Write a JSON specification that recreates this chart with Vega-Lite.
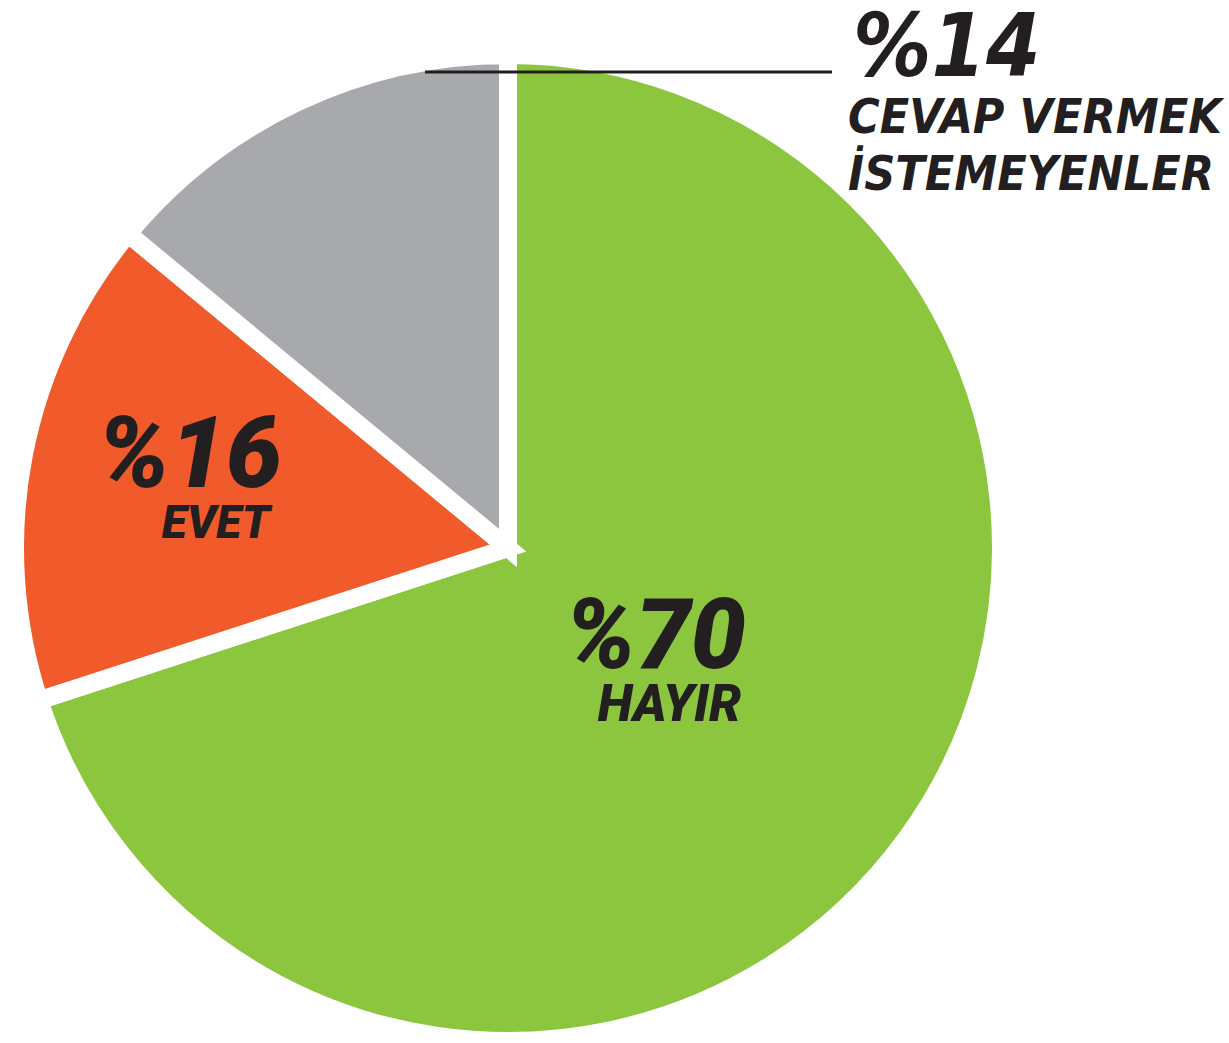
{
  "$schema": "https://vega.github.io/schema/vega-lite/v6.json",
  "width": 1016,
  "height": 990,
  "autosize": {"type": "none"},
  "padding": {"left": 0, "top": 53, "right": 213, "bottom": 0},
  "background": "white",
  "config": {"view": {"stroke": null}},
  "data": {
    "values": [
      {"cevap": "HAYIR", "yuzde": 70, "sira": 1, "etiket": "%70", "ad": "HAYIR"},
      {"cevap": "EVET", "yuzde": 16, "sira": 2, "etiket": "%16", "ad": "EVET"},
      {"cevap": "CEVAP VERMEK İSTEMEYENLER", "yuzde": 14, "sira": 3, "etiket": "%14", "ad": "CEVAP VERMEK\nİSTEMEYENLER"}
    ]
  },
  "layer": [
    {
      "mark": {"type": "arc", "radius": 493, "stroke": "white", "strokeWidth": 18, "strokeJoin": "miter"},
      "encoding": {
        "theta": {"field": "yuzde", "type": "quantitative", "stack": true},
        "order": {"field": "sira", "type": "quantitative"},
        "color": {
          "field": "cevap",
          "type": "nominal",
          "scale": {"domain": ["HAYIR", "EVET", "CEVAP VERMEK İSTEMEYENLER"], "range": ["#8CC63F", "#F15A2B", "#A7A9AC"]},
          "legend": null
        }
      }
    },
    {
      "transform": [{"filter": "datum.sira == 3"}],
      "mark": {"type": "rule", "color": "#231F20", "strokeWidth": 2.8},
      "encoding": {
        "x": {"datum": 425, "type": "quantitative", "scale": {"domain": [0, 1016]}, "axis": null},
        "x2": {"datum": 832},
        "y": {"datum": 971, "type": "quantitative", "scale": {"domain": [0, 990]}, "axis": null}
      }
    },
    {
      "mark": {"type": "text", "radius": 170, "font": "Roboto", "fontWeight": 900, "fontStyle": "italic", "fontSize": 98, "letterSpacing": 2, "color": "#231F20", "align": "center", "baseline": "alphabetic", "dx": 10, "dy": 20},
      "encoding": {
        "theta": {"field": "yuzde", "type": "quantitative", "stack": true},
        "order": {"field": "sira", "type": "quantitative"},
        "text": {"condition": {"test": "datum.sira == 1", "field": "etiket"}, "value": ""}
      }
    },
    {
      "mark": {"type": "text", "radius": 170, "font": "Roboto", "fontWeight": 900, "fontStyle": "italic", "fontSize": 51, "color": "#231F20", "align": "center", "baseline": "alphabetic", "dx": 24, "dy": 73},
      "encoding": {
        "theta": {"field": "yuzde", "type": "quantitative", "stack": true},
        "order": {"field": "sira", "type": "quantitative"},
        "text": {"condition": {"test": "datum.sira == 1", "field": "ad"}, "value": ""}
      }
    },
    {
      "mark": {"type": "text", "radius": 330, "font": "Roboto", "fontWeight": 900, "fontStyle": "italic", "fontSize": 100, "letterSpacing": 2, "color": "#231F20", "align": "center", "baseline": "alphabetic", "dx": 6, "dy": 1},
      "encoding": {
        "theta": {"field": "yuzde", "type": "quantitative", "stack": true},
        "order": {"field": "sira", "type": "quantitative"},
        "text": {"condition": {"test": "datum.sira == 2", "field": "etiket"}, "value": ""}
      }
    },
    {
      "mark": {"type": "text", "radius": 330, "font": "Roboto", "fontWeight": 900, "fontStyle": "italic", "fontSize": 46, "letterSpacing": 2, "color": "#231F20", "align": "center", "baseline": "alphabetic", "dx": 32, "dy": 52},
      "encoding": {
        "theta": {"field": "yuzde", "type": "quantitative", "stack": true},
        "order": {"field": "sira", "type": "quantitative"},
        "text": {"condition": {"test": "datum.sira == 2", "field": "ad"}, "value": ""}
      }
    },
    {
      "mark": {"type": "text", "radius": 493, "font": "DejaVu Sans Condensed", "fontWeight": "bold", "fontStyle": "italic", "fontSize": 87, "color": "#231F20", "align": "left", "baseline": "alphabetic", "dx": 555, "dy": -26},
      "encoding": {
        "theta": {"field": "yuzde", "type": "quantitative", "stack": true},
        "order": {"field": "sira", "type": "quantitative"},
        "text": {"condition": {"test": "datum.sira == 3", "field": "etiket"}, "value": ""}
      }
    },
    {
      "mark": {"type": "text", "radius": 493, "font": "DejaVu Sans Condensed", "fontWeight": "bold", "fontStyle": "italic", "fontSize": 48, "lineHeight": 57, "lineBreak": "\n", "color": "#231F20", "align": "left", "baseline": "alphabetic", "dx": 550, "dy": 31},
      "encoding": {
        "theta": {"field": "yuzde", "type": "quantitative", "stack": true},
        "order": {"field": "sira", "type": "quantitative"},
        "text": {"condition": {"test": "datum.sira == 3", "field": "ad"}, "value": ""}
      }
    }
  ]
}
